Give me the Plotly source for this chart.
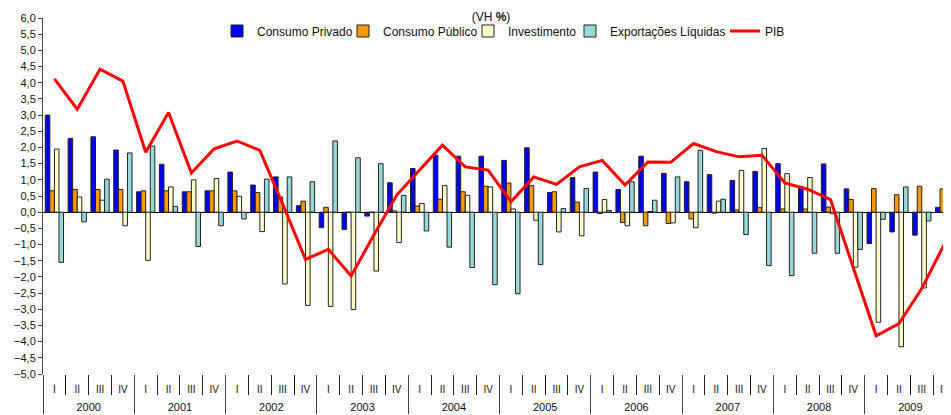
import plotly.graph_objects as go

years = ["2000", "2001", "2002", "2003", "2004", "2005", "2006", "2007", "2008", "2009"]
quarters = ["I", "II", "III", "IV"]

consumo_privado = [3.00, 2.28, 2.33, 1.92, 0.63, 1.48, 0.63, 0.66, 1.24, 0.84, 1.09, 0.20,
                   -0.48, -0.53, -0.12, 0.91, 1.35, 1.76, 1.73, 1.73, 1.60, 1.99, 0.61, 1.07,
                   1.24, 0.70, 1.73, 1.20, 0.94, 1.16, 0.98, 1.26, 1.50, 0.79, 1.49, 0.72,
                   -0.97, -0.61, -0.71, 0.15]
consumo_publico = [0.66, 0.70, 0.70, 0.70, 0.66, 0.66, 0.63, 0.66, 0.66, 0.61, 0.47, 0.34,
                   0.15, 0.00, 0.00, 0.04, 0.19, 0.40, 0.63, 0.80, 0.90, 0.82, 0.63, 0.31,
                   -0.04, -0.32, -0.42, -0.35, -0.21, -0.03, 0.07, 0.14, 0.10, 0.10, 0.16, 0.39,
                   0.73, 0.54, 0.80, 0.72]
investimento = [1.95, 0.47, 0.37, -0.42, -1.49, 0.78, 1.00, 1.04, 0.49, -0.60, -2.22, -2.88,
                -2.91, -3.01, -1.82, -0.94, 0.27, 0.82, 0.52, 0.78, 0.10, -0.25, -0.61, -0.73,
                0.39, -0.42, 0.02, -0.33, -0.48, 0.34, 1.29, 1.97, 1.19, 1.07, -0.05, -1.70,
                -3.40, -4.16, -2.34, -2.08]
exportacoes = [-1.55, -0.30, 1.02, 1.83, 2.04, 0.18, -1.06, -0.42, -0.21, 1.02, 1.09, 0.94,
               2.20, 1.68, 1.50, 0.52, -0.58, -1.08, -1.71, -2.24, -2.52, -1.62, 0.11, 0.73,
               0.05, 0.94, 0.37, 1.09, 1.91, 0.40, -0.69, -1.65, -1.96, -1.27, -1.27, -1.15,
               -0.22, 0.78, -0.27, 0.20]
pib = [4.12, 3.18, 4.42, 4.05, 1.85, 3.08, 1.21, 1.96, 2.20, 1.91, 0.25, -1.46,
       -1.15, -1.97, -0.70, 0.53, 1.30, 2.07, 1.40, 1.30, 0.32, 1.09, 0.86, 1.40,
       1.60, 0.84, 1.55, 1.54, 2.12, 1.87, 1.71, 1.76, 0.90, 0.71, 0.39, -1.70,
       -3.82, -3.44, -2.36, -0.97]

# outer (year) labels pushed one line down, as in the reference
x_outer = ["<br><span style='font-size:11px'>" + y + "</span>" for y in years for _ in quarters]
x_inner = [q for _ in years for q in quarters]
x = [x_outer, x_inner]

FONT = "Liberation Sans, Arial, sans-serif"
W, H, OFF = 943, 407, 8  # page body margin offsets the figure by 8 px
Y_MIN, Y_MAX = -5, 6
X_RANGE = [-0.5, 39.28]

fig = go.Figure()

bar_series = [
    ("Consumo Privado", consumo_privado, "#0000F0", 81),
    ("Consumo Público", consumo_publico, "#FF9900", 80),
    ("Investimento", investimento, "#FFFFC8", 57),
    ("Exportações Líquidas", exportacoes, "#99D8D8", 110),
]
for name, vals, color, lw in bar_series:
    fig.add_trace(go.Bar(x=x, y=vals, name=name, legendwidth=lw,
                         marker=dict(color=color, line=dict(color="#222222", width=1))))

fig.add_trace(go.Scatter(x=x, y=pib, name="PIB", mode="lines",
                         line=dict(color="#FF0000", width=3)))

fig.update_layout(
    width=W, height=H,
    margin=dict(l=43 - OFF, r=0, t=18 - OFF, b=41, autoexpand=False),
    paper_bgcolor="white", plot_bgcolor="white",
    separators=",.",
    barmode="group", bargap=0.2, bargroupgap=0,
    font=dict(family=FONT, size=11, color="#111111"),
    title=dict(text="(VH <b>%</b>)", x=(491 - OFF) / W, xanchor="center", xref="container",
               y=1 - (17 - OFF) / H, yanchor="middle", yref="container",
               font=dict(family=FONT, size=12, color="#111111")),
    legend=dict(orientation="h", x=(217 - OFF) / W, xanchor="left", xref="container",
                y=1 - (31 - OFF) / H, yanchor="middle", yref="container",
                bgcolor="rgba(0,0,0,0)", font=dict(family=FONT, size=12, color="#111111"),
                itemwidth=30, tracegroupgap=0),
    showlegend=True,
    # small tick marks along the zero line at the quarter boundaries
    xaxis2=dict(overlaying="x", anchor="free", position=(0 - Y_MIN) / (Y_MAX - Y_MIN),
                range=X_RANGE, tick0=-0.5, dtick=1, ticks="outside", ticklen=3,
                tickcolor="#333333", showticklabels=False, showline=False,
                showgrid=False, zeroline=False, side="bottom"),
)
fig.update_yaxes(range=[Y_MIN, Y_MAX], dtick=0.5, tick0=0, tickformat=".1f", automargin=False,
                 ticks="outside", ticklen=4, tickcolor="#444444",
                 showline=True, linecolor="#444444", linewidth=1,
                 showgrid=False, zeroline=True, zerolinecolor="#000000", zerolinewidth=1,
                 tickfont=dict(family=FONT, size=11, color="#111111"))
fig.update_layout(xaxis=dict(type="multicategory", range=X_RANGE, automargin=False,
                             showgrid=False, showline=False,
                             ticks="outside", tickson="boundaries", ticklen=20,
                             tickcolor="#222222",
                             showdividers=True, dividercolor="#444444", dividerwidth=1,
                             ticklabelstandoff=8,
                             tickfont=dict(family=FONT, size=10, color="#111111")))

fig.write_html("out.html")
